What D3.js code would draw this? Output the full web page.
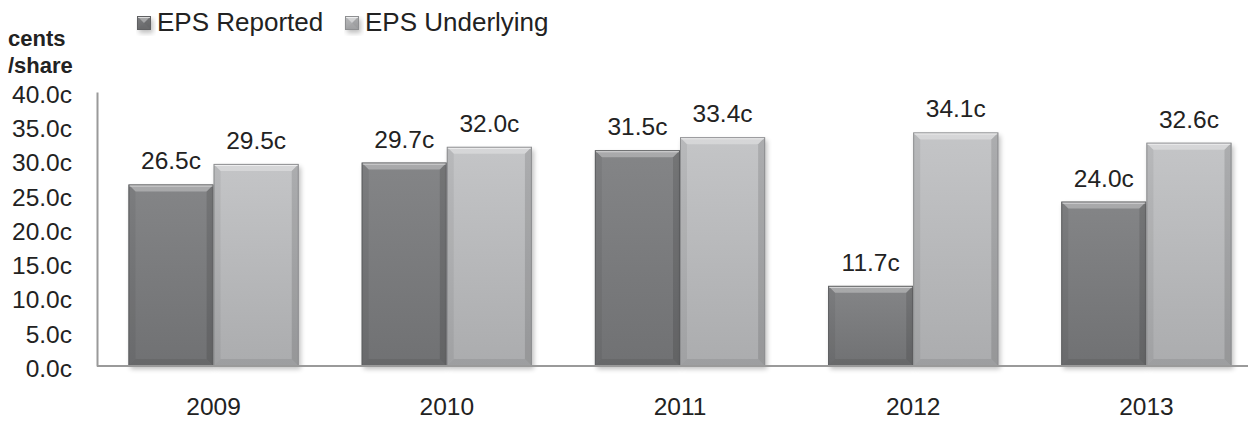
<!DOCTYPE html>
<html>
<head>
<meta charset="utf-8">
<script src="https://cdn.jsdelivr.net/npm/d3@7"></script>
<style>
  body { margin: 0; background: #fff; }
  svg { display: block; font-family: "Liberation Sans", Arial, sans-serif; }
</style>
</head>
<body>
<svg id="chart" width="1248" height="421"></svg>
<script>
const years = ['2009', '2010', '2011', '2012', '2013'];
const reported = [26.5, 29.7, 31.5, 11.7, 24.0];
const underlying = [29.5, 32.0, 33.4, 34.1, 32.6];
const seriesNames = ['EPS Reported', 'EPS Underlying'];
const yTicks = [0, 5, 10, 15, 20, 25, 30, 35, 40];

const width = 1248, height = 421;
const margin = {top: 92, right: -15, bottom: 55, left: 97};

const svg = d3.select('#chart');

const defs = svg.append('defs');
const fills = [
  {id: 'gDark', top: '#848587', bottom: '#707173', edge: '#5f6062'},
  {id: 'gLight', top: '#c4c5c7', bottom: '#abacae', edge: '#8e8f91'}
];
fills.forEach(f => {
  const g = defs.append('linearGradient').attr('id', f.id)
    .attr('x1', 0).attr('y1', 0).attr('x2', 0).attr('y2', 1);
  g.append('stop').attr('offset', 0).attr('stop-color', f.top);
  g.append('stop').attr('offset', 1).attr('stop-color', f.bottom);
});
defs.append('filter').attr('id', 'shadow')
  .attr('x', -0.2).attr('y', -0.2).attr('width', 1.4).attr('height', 1.4)
  .append('feGaussianBlur').attr('stdDeviation', 2.5);

const x0 = d3.scaleBand()
  .domain(years)
  .range([margin.left, width - margin.right])
  .paddingInner(0.27)
  .paddingOuter(0.135);

const x1 = d3.scaleBand()
  .domain([0, 1])
  .range([0, x0.bandwidth()]);

const y = d3.scaleLinear()
  .domain([0, 40])
  .range([height - margin.bottom, margin.top]);

const data = years.map((yr, i) => ({year: yr, values: [reported[i], underlying[i]]}));

// bevelled bar
function drawBar(g, bx, by, bw, bh, f) {
  const b = Math.min(7, bh / 2);
  g.append('rect')
    .attr('x', bx + 2).attr('y', by + 3).attr('width', bw).attr('height', bh)
    .attr('fill', '#000').attr('opacity', 0.25)
    .attr('filter', 'url(#shadow)');
  g.append('rect')
    .attr('x', bx).attr('y', by).attr('width', bw).attr('height', bh)
    .attr('fill', `url(#${f.id})`);
  const poly = (pts, fill, op) => g.append('polygon')
    .attr('points', pts.map(p => p.join(',')).join(' '))
    .attr('fill', fill).attr('opacity', op);
  poly([[bx, by], [bx + bw, by], [bx + bw - b, by + b], [bx + b, by + b]], '#fff', 0.3);
  poly([[bx, by], [bx + b, by + b], [bx + b, by + bh - b], [bx, by + bh]], '#000', 0.06);
  poly([[bx + bw, by], [bx + bw - b, by + b], [bx + bw - b, by + bh - b], [bx + bw, by + bh]], '#000', 0.12);
  poly([[bx, by + bh], [bx + b, by + bh - b], [bx + bw - b, by + bh - b], [bx + bw, by + bh]], '#000', 0.08);
  g.append('rect')
    .attr('x', bx + 0.5).attr('y', by + 0.5).attr('width', bw - 1).attr('height', bh - 1)
    .attr('fill', 'none').attr('stroke', f.edge).attr('stroke-width', 1);
  g.append('line')
    .attr('x1', bx + 1).attr('x2', bx + bw - 1).attr('y1', by + 1.5).attr('y2', by + 1.5)
    .attr('stroke', '#fff').attr('stroke-opacity', 0.6);
}

const barsG = svg.append('g');
data.forEach(d => {
  d.values.forEach((v, k) => {
    const bx = x0(d.year) + x1(k);
    const by = y(v);
    drawBar(barsG, bx, by, x1.bandwidth(), y(0) - by, fills[k]);
  });
});

// value labels
svg.append('g')
  .attr('font-size', 24.5)
  .attr('fill', '#222')
  .attr('text-anchor', 'middle')
  .selectAll('text')
  .data(data.flatMap(d => d.values.map((v, k) => ({year: d.year, k, v}))))
  .join('text')
  .attr('x', d => x0(d.year) + x1(d.k) + x1.bandwidth() / 2)
  .attr('y', d => y(d.v) - 15)
  .text(d => d.v.toFixed(1) + 'c');

// axes
const yAxis = svg.append('g')
  .attr('transform', `translate(${margin.left},0)`)
  .call(d3.axisLeft(y).tickValues(yTicks).tickFormat(d => d.toFixed(1) + 'c').tickSize(0).tickPadding(25));
yAxis.select('.domain').attr('stroke', '#9a9a9a').attr('stroke-width', 2);
yAxis.selectAll('text').attr('font-size', 24.5).attr('fill', '#222')
  .attr('font-family', '"Liberation Sans", Arial, sans-serif').attr('dy', '0.42em');

svg.append('line')
  .attr('x1', margin.left).attr('x2', width)
  .attr('y1', y(0)).attr('y2', y(0))
  .attr('stroke', '#9a9a9a').attr('stroke-width', 2);

const xAxis = svg.append('g')
  .attr('transform', `translate(0,${y(0)})`)
  .call(d3.axisBottom(x0).tickSize(0).tickPadding(32));
xAxis.select('.domain').remove();
xAxis.selectAll('text').attr('font-size', 24.5).attr('fill', '#222')
  .attr('font-family', '"Liberation Sans", Arial, sans-serif');

// unit title
svg.append('text')
  .attr('x', 8).attr('y', 46)
  .attr('font-size', 22).attr('font-weight', 'bold').attr('fill', '#222')
  .call(t => t.append('tspan').attr('x', 8).text('cents'))
  .call(t => t.append('tspan').attr('x', 8).attr('dy', 27).text('/share'));

// legend
const legendX = [137, 345];
const legend = svg.append('g');
seriesNames.forEach((name, k) => {
  const g = legend.append('g');
  drawBar(g, legendX[k], 16, 14, 14, fills[k]);
  g.append('text')
    .attr('x', legendX[k] + 20).attr('y', 31)
    .attr('font-size', 26).attr('fill', '#222')
    .text(name);
});
</script>
</body>
</html>
